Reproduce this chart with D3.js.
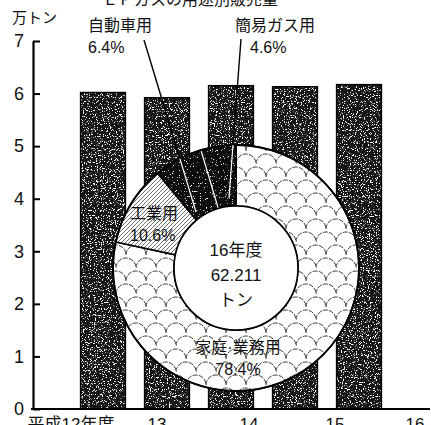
<!DOCTYPE html>
<html>
<head>
<meta charset="utf-8">
<script src="https://cdn.jsdelivr.net/npm/d3@7/dist/d3.min.js"></script>
<style>
  body { margin: 0; background: #fff; }
  svg { display: block; }
  text { font-family: "Liberation Sans", "Noto Sans CJK JP", sans-serif; fill: #111; }
</style>
</head>
<body>
<svg width="431" height="425"></svg>
<script>
// bar data (万トン)
const years = ["平成12年度", "13", "14", "15", "16"];
const sales = [6.02, 5.92, 6.15, 6.13, 6.17];
const yTicks = [0, 1, 2, 3, 4, 5, 6, 7];

// donut data (16年度 用途別)
const uses = ["家庭·業務用", "工業用", "自動車用", "簡易ガス用"];
const shares = [78.4, 10.6, 6.4, 4.6];

const svg = d3.select("svg");
const defs = svg.append("defs");

// stipple texture for bars
const noise = defs.append("filter").attr("id", "speckle")
  .attr("x", 0).attr("y", 0).attr("width", 1).attr("height", 1);
noise.append("feTurbulence").attr("type", "fractalNoise")
  .attr("baseFrequency", 0.85).attr("numOctaves", 3).attr("seed", 11).attr("result", "n");
noise.append("feColorMatrix").attr("in", "n").attr("type", "matrix")
  .attr("values", "0 0 0 0 1  0 0 0 0 1  0 0 0 0 1  11 0 0 0 -6.4").attr("result", "w");
noise.append("feComposite").attr("in", "w").attr("in2", "SourceGraphic").attr("operator", "in");

const noise2 = defs.append("filter").attr("id", "speckle2")
  .attr("x", 0).attr("y", 0).attr("width", 1).attr("height", 1);
noise2.append("feTurbulence").attr("type", "fractalNoise")
  .attr("baseFrequency", 0.85).attr("numOctaves", 3).attr("seed", 7).attr("result", "n");
noise2.append("feColorMatrix").attr("in", "n").attr("type", "matrix")
  .attr("values", "0 0 0 0 1  0 0 0 0 1  0 0 0 0 1  12 0 0 0 -7.8").attr("result", "w");
noise2.append("feComposite").attr("in", "w").attr("in2", "SourceGraphic").attr("operator", "in");

// fish-scale pattern
const scale = defs.append("pattern").attr("id", "scales")
  .attr("patternUnits", "userSpaceOnUse").attr("width", 20).attr("height", 26);
scale.append("rect").attr("width", 20).attr("height", 26).attr("fill", "#fff");
scale.append("path")
  .attr("d", "M-10,13 A10,10 0 0 1 10,13 A10,10 0 0 1 30,13 M0,26 A10,10 0 0 1 20,26 M0,0 A10,10 0 0 1 20,0")
  .attr("fill", "none").attr("stroke", "#222").attr("stroke-width", 0.9)
  .attr("stroke-dasharray", "5 1.2");

// hatching
const hatch = defs.append("pattern").attr("id", "hatch")
  .attr("patternUnits", "userSpaceOnUse").attr("width", 4).attr("height", 4);
hatch.append("rect").attr("width", 4).attr("height", 4).attr("fill", "#fff");
hatch.append("path").attr("d", "M-1,1 L1,-1 M0,4 L4,0 M3,5 L5,3")
  .attr("stroke", "#333").attr("stroke-width", 0.7);

// scales
const x = d3.scaleBand().domain(years).range([71, 391])
  .paddingInner(0.3).paddingOuter(0.15);
const y = d3.scaleLinear().domain([0, 7]).range([409, 41]);

// title (cut off at top, as in the source)
svg.append("text").attr("x", 190).attr("y", 5).attr("text-anchor", "middle")
  .attr("font-size", 16).text("ＬＰガスの用途別販売量");

// bars
const bars = svg.append("g");
bars.selectAll("rect.base").data(sales).join("rect").attr("class", "base")
  .attr("x", (d, i) => x(years[i])).attr("y", d => y(d))
  .attr("width", x.bandwidth()).attr("height", d => y(0) - y(d))
  .attr("fill", "#161616");
bars.selectAll("rect.tex").data(sales).join("rect").attr("class", "tex")
  .attr("x", (d, i) => x(years[i])).attr("y", d => y(d))
  .attr("width", x.bandwidth()).attr("height", d => y(0) - y(d))
  .attr("fill", "#fff").attr("filter", "url(#speckle)");
bars.selectAll("rect.edge").data(sales).join("rect").attr("class", "edge")
  .attr("x", (d, i) => x(years[i])).attr("y", d => y(d))
  .attr("width", x.bandwidth()).attr("height", d => y(0) - y(d))
  .attr("fill", "none").attr("stroke", "#000").attr("stroke-width", 1.5);

// axes
const yAxis = svg.append("g").attr("transform", "translate(33,0)")
  .call(d3.axisLeft(y).tickValues(yTicks).tickFormat(d3.format("d"))
    .tickSizeInner(-7).tickSizeOuter(0).tickPadding(9));
yAxis.select(".domain").attr("stroke", "#000").attr("stroke-width", 2.2);
yAxis.selectAll(".tick line").attr("stroke", "#000").attr("stroke-width", 2);
yAxis.selectAll(".tick text").attr("font-size", 18).attr("fill", "#111")
  .attr("font-family", "Liberation Sans, sans-serif");

svg.append("line").attr("x1", 31).attr("x2", 430).attr("y1", y(0)).attr("y2", y(0))
  .attr("stroke", "#000").attr("stroke-width", 2);

svg.append("text").attr("x", 12).attr("y", 23).attr("font-size", 15).text("万トン");

// x labels (bottom edge crops them, as in the source)
const xLabelShift = [-32, -10, 18, 40, 56];
svg.selectAll("text.xl").data(years).join("text").attr("class", "xl")
  .attr("x", (d, i) => x(d) + x.bandwidth() / 2 + xLabelShift[i])
  .attr("y", 430).attr("text-anchor", "middle").attr("font-size", 17).text(d => d);

// donut
const cx = 236, cy = 268, R = 123, r0 = 62;
const pie = d3.pie().sort(null).value(d => d);
const arcs = pie(shares);
const arc = d3.arc().innerRadius(r0).outerRadius(R);
const fills = ["url(#scales)", "url(#hatch)", "#0c0c0c", "#0c0c0c"];

const donut = svg.append("g").attr("transform", `translate(${cx},${cy})`);
donut.selectAll("path.slice").data(arcs).join("path").attr("class", "slice")
  .attr("d", arc).attr("fill", (d, i) => fills[i])
  .attr("stroke", "#000").attr("stroke-width", 1.6);
donut.selectAll("path.spk").data(arcs.slice(2)).join("path").attr("class", "spk")
  .attr("d", arc).attr("fill", "#fff").attr("filter", "url(#speckle2)");

// white boundary between the two dark slices
const a3 = arcs[3].startAngle;
donut.append("line")
  .attr("x1", Math.sin(a3) * r0).attr("y1", -Math.cos(a3) * r0)
  .attr("x2", Math.sin(a3) * (R - 1)).attr("y2", -Math.cos(a3) * (R - 1))
  .attr("stroke", "#fff").attr("stroke-width", 1.3);

// inner circle
donut.append("circle").attr("r", r0).attr("fill", "#fff")
  .attr("stroke", "#000").attr("stroke-width", 1.6);
donut.append("circle").attr("r", R).attr("fill", "none")
  .attr("stroke", "#000").attr("stroke-width", 1.8);

// centre text
const centre = ["16年度", "62.211", "トン"];
donut.selectAll("text.c").data(centre).join("text").attr("class", "c")
  .attr("x", 0).attr("y", (d, i) => -12 + i * 25)
  .attr("text-anchor", "middle").attr("font-size", 17).text(d => d);

// leader lines: black outside the ring, white inside the dark slices
function leader(x1, y1, x2, y2) {
  const dx = x2 - x1, dy = y2 - y1;
  const fx = x1 - cx, fy = y1 - cy;
  const a = dx * dx + dy * dy, b = 2 * (fx * dx + fy * dy), c = fx * fx + fy * fy - R * R;
  const t = (-b - Math.sqrt(b * b - 4 * a * c)) / (2 * a);
  const ix = x1 + t * dx, iy = y1 + t * dy;
  svg.append("line").attr("x1", x1).attr("y1", y1).attr("x2", ix).attr("y2", iy)
    .attr("stroke", "#000").attr("stroke-width", 1.4);
  svg.append("line").attr("x1", ix).attr("y1", iy).attr("x2", x2).attr("y2", y2)
    .attr("stroke", "#fff").attr("stroke-width", 1.2);
}
leader(144, 40, 196, 212);
leader(241, 39, 229, 198);

// slice labels
const labels = [
  { t: ["家庭·業務用", "78.4%"], x: 238, y: 353, a: "middle" },
  { t: ["工業用", "10.6%"], x: 130, y: 219, a: "start" },
  { t: ["自動車用", "6.4%"], x: 88, y: 31, a: "start" },
  { t: ["簡易ガス用", "4.6%"], x: 235, y: 31, a: "start" }
];
labels.forEach((l, k) => {
  l.t.forEach((s, j) => {
    svg.append("text").attr("x", l.x + (k === 3 && j === 1 ? 15 : 0)).attr("y", l.y + j * 22)
      .attr("text-anchor", l.a).attr("font-size", 16).text(s);
  });
});
</script>
</body>
</html>
